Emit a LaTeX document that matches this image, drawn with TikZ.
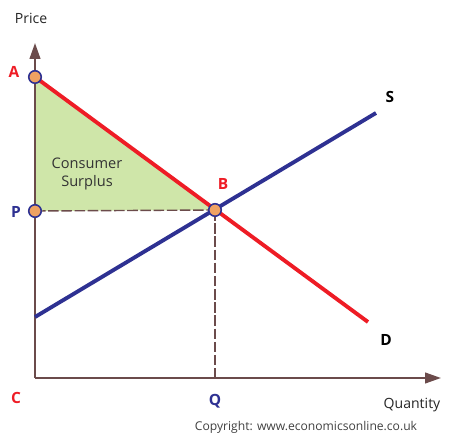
\documentclass[tikz,border=0pt]{standalone}
\usepackage{fontspec}
\setmainfont{Open Sans}
\usetikzlibrary{positioning,arrows.meta}
\definecolor{axisbrown}{HTML}{6B4B4B}
\definecolor{demandred}{HTML}{EE1C25}
\definecolor{supplyblue}{HTML}{2E3192}
\definecolor{surplusgreen}{HTML}{CFE6A9}
\definecolor{dotorange}{HTML}{EFA262}
\tikzset{
  axisline/.style={axisbrown, line width=1.2pt, -{Triangle[length=9pt, width=6pt]}},
  guideline/.style={axisbrown, line width=0.8pt, dash pattern=on 6pt off 1.5pt},
  curveline/.style={line width=2.2pt},
  ptdot/.style={circle, draw=supplyblue, line width=0.9pt, fill=dotorange, minimum size=0.25cm, inner sep=0pt},
  ptlabel/.style={font=\fontsize{8.8}{10}\selectfont\bfseries},
  axislabel/.style={font=\fontsize{8}{9.5}\selectfont, text=black!85},
}
\begin{document}
\begin{tikzpicture}[x=0.02cm, y=-0.02cm]
  \useasboundingbox (0,0) rectangle (457,442);
  % points
  \coordinate (o) at (35,378);
  \coordinate (ytop) at (35,43);
  \coordinate (xend) at (441,378);
  \coordinate (a) at (35,77);
  \coordinate (p) at (35,211);
  \coordinate (b) at (215,210);
  \coordinate (q) at (215,378);
  \coordinate (dend) at (368,322);
  \coordinate (sstart) at (35,317);
  \coordinate (send) at (376,113);
  % surplus
  \fill[surplusgreen] (a) -- (b) -- (p) -- cycle;
  \node[align=center, axislabel, font=\fontsize{8.3}{10.5}\selectfont, text=black!80] (cs) at (87,174) {Consumer\\Surplus};
  \draw[guideline] (p) -- (b);
  \draw[guideline] (b) -- (q);
  % axes
  \draw[axisline] (o) -- (ytop);
  \draw[axisline] (o) -- (xend);
  % curves
  \draw[curveline, demandred] (a) -- (dend);
  \draw[curveline, supplyblue] (sstart) -- (send);
  % dots
  \node[ptdot] (da) at (a) {};
  \node[ptdot] (dp) at (p) {};
  \node[ptdot] (db) at (b) {};
  % labels
  \node[ptlabel, text=demandred] (la) at (14,72) {A};
  \node[ptlabel, text=supplyblue] (lp) at (16,212) {P};
  \node[ptlabel, text=demandred] (lb) at (223,184) {B};
  \node[ptlabel, text=demandred] (lc) at (16,398) {C};
  \node[ptlabel, text=supplyblue] (lq) at (215,401) {Q};
  \node[ptlabel, text=black] (ls) at (390,97) {S};
  \node[ptlabel, text=black] (ld) at (386,340) {D};
  \node[axislabel] (price) at (31,18) {Price};
  \node[axislabel] (qty) at (412,405) {Quantity};
  \node[font=\fontsize{6.9}{8}\selectfont, text=black!75] (copy) at (306,427) {Copyright: www.economicsonline.co.uk};
\end{tikzpicture}
\end{document}
